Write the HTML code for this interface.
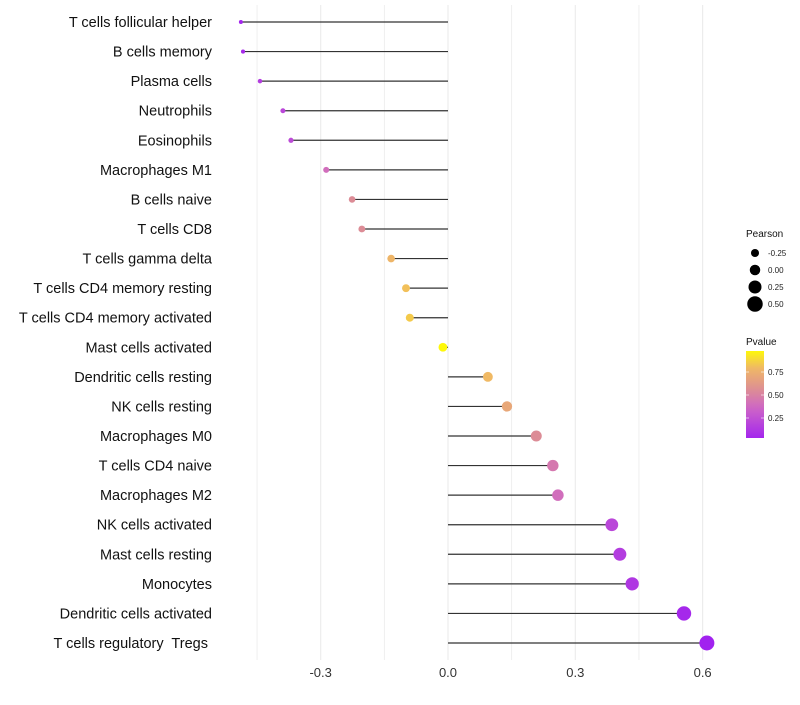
<!DOCTYPE html>
<html><head><meta charset="utf-8"><style>
body{margin:0;background:#fff;font-family:"Liberation Sans",sans-serif}
text{white-space:pre}
</style></head><body>
<svg id="chart" width="800" height="700" xmlns="http://www.w3.org/2000/svg" font-family="Liberation Sans, sans-serif"></svg>
<script>
const categories=["T cells follicular helper","B cells memory","Plasma cells","Neutrophils","Eosinophils","Macrophages M1","B cells naive","T cells CD8","T cells gamma delta","T cells CD4 memory resting","T cells CD4 memory activated","Mast cells activated","Dendritic cells resting","NK cells resting","Macrophages M0","T cells CD4 naive","Macrophages M2","NK cells activated","Mast cells resting","Monocytes","Dendritic cells activated","T cells regulatory  Tregs "];
const pearson=[-0.488,-0.483,-0.443,-0.389,-0.370,-0.287,-0.226,-0.203,-0.134,-0.099,-0.090,-0.012,0.094,0.139,0.208,0.247,0.259,0.386,0.405,0.434,0.556,0.610];
const pvalue=[0.03,0.05,0.15,0.2,0.22,0.4,0.55,0.55,0.78,0.82,0.85,0.98,0.8,0.7,0.55,0.45,0.4,0.2,0.15,0.12,0.04,0.01];
const xTicks=[-0.3,0.0,0.3,0.6];
const sizeLegend=[-0.25,0.00,0.25,0.50];
const colorLegend=[0.25,0.50,0.75];
const NS="http://www.w3.org/2000/svg";
const svg=document.getElementById("chart");
const x=v=>448+v*424.4;
const y=i=>22+i*(621/21);
const r=v=>2+(v+0.49)/1.1*5.5;
const stops=[[0,[160,32,240]],[0.35,[205,100,200]],[0.55,[220,140,150]],[0.8,[240,185,100]],[1,[255,255,0]]];
function col(p){for(let k=1;k<stops.length;k++){if(p<=stops[k][0]){const a=stops[k-1],b=stops[k],t=(p-a[0])/(b[0]-a[0]);return "rgb("+a[1].map((c,j)=>Math.round(c+(b[1][j]-c)*t)).join(",")+")";}}return "rgb(255,255,0)";}
function el(t,at,txt){const e=document.createElementNS(NS,t);for(const k in at)e.setAttribute(k,at[k]);if(txt!==undefined)e.textContent=txt;svg.appendChild(e);return e;}
for(let v=-0.45;v<=0.61;v+=0.15){const g=el("line",{x1:x(v),x2:x(v),y1:5,y2:660,stroke:"#ebebeb","stroke-width":Math.abs(Math.round(v/0.15))%2? 0.8:1.1});

}
xTicks.forEach(t=>{const e=el("text",{x:x(t),y:677,"text-anchor":"middle","font-size":13,fill:"#333"},t.toFixed(1));

});
categories.forEach((c,i)=>{
const l=el("text",{x:212,y:y(i)+5,"text-anchor":"end","font-size":14.5,fill:"#111"},c);


const s=el("line",{x1:x(0),x2:x(pearson[i]),y1:y(i),y2:y(i),stroke:"#333","stroke-width":1.2});


const p=el("circle",{cx:x(pearson[i]),cy:y(i),r:r(pearson[i]),fill:col(pvalue[i])});


});
const t1=el("text",{x:746,y:237,"font-size":10,fill:"#111"},"Pearson");


sizeLegend.forEach((v,k)=>{const cy=253+k*17;
const c=el("circle",{cx:755,cy:cy,r:r(v)+0.8,fill:"#000"});


const t=el("text",{x:768,y:cy+3,"font-size":8,fill:"#222"},v.toFixed(2));

});
const t2=el("text",{x:746,y:345,"font-size":10,fill:"#111"},"Pvalue");


const defs=el("defs",{});const lg=document.createElementNS(NS,"linearGradient");lg.setAttribute("id","pg");lg.setAttribute("x1","0");lg.setAttribute("y1","1");lg.setAttribute("x2","0");lg.setAttribute("y2","0");defs.appendChild(lg);
for(let k=0;k<=10;k++){const st=document.createElementNS(NS,"stop");const p=0.03+k/10*0.95;st.setAttribute("offset",k/10);st.setAttribute("stop-color",col(p));lg.appendChild(st);}
const bar=el("rect",{x:746,y:351,width:18,height:87,fill:"url(#pg)"});


colorLegend.forEach(v=>{const cy=441-v*92;
el("line",{x1:746,x2:749,y1:cy,y2:cy,stroke:"#fff","stroke-width":0.6});
el("line",{x1:761,x2:764,y1:cy,y2:cy,stroke:"#fff","stroke-width":0.6});
const t=el("text",{x:768,y:cy+3,"font-size":8,fill:"#222"},v.toFixed(2));

});
</script>
</body></html>
